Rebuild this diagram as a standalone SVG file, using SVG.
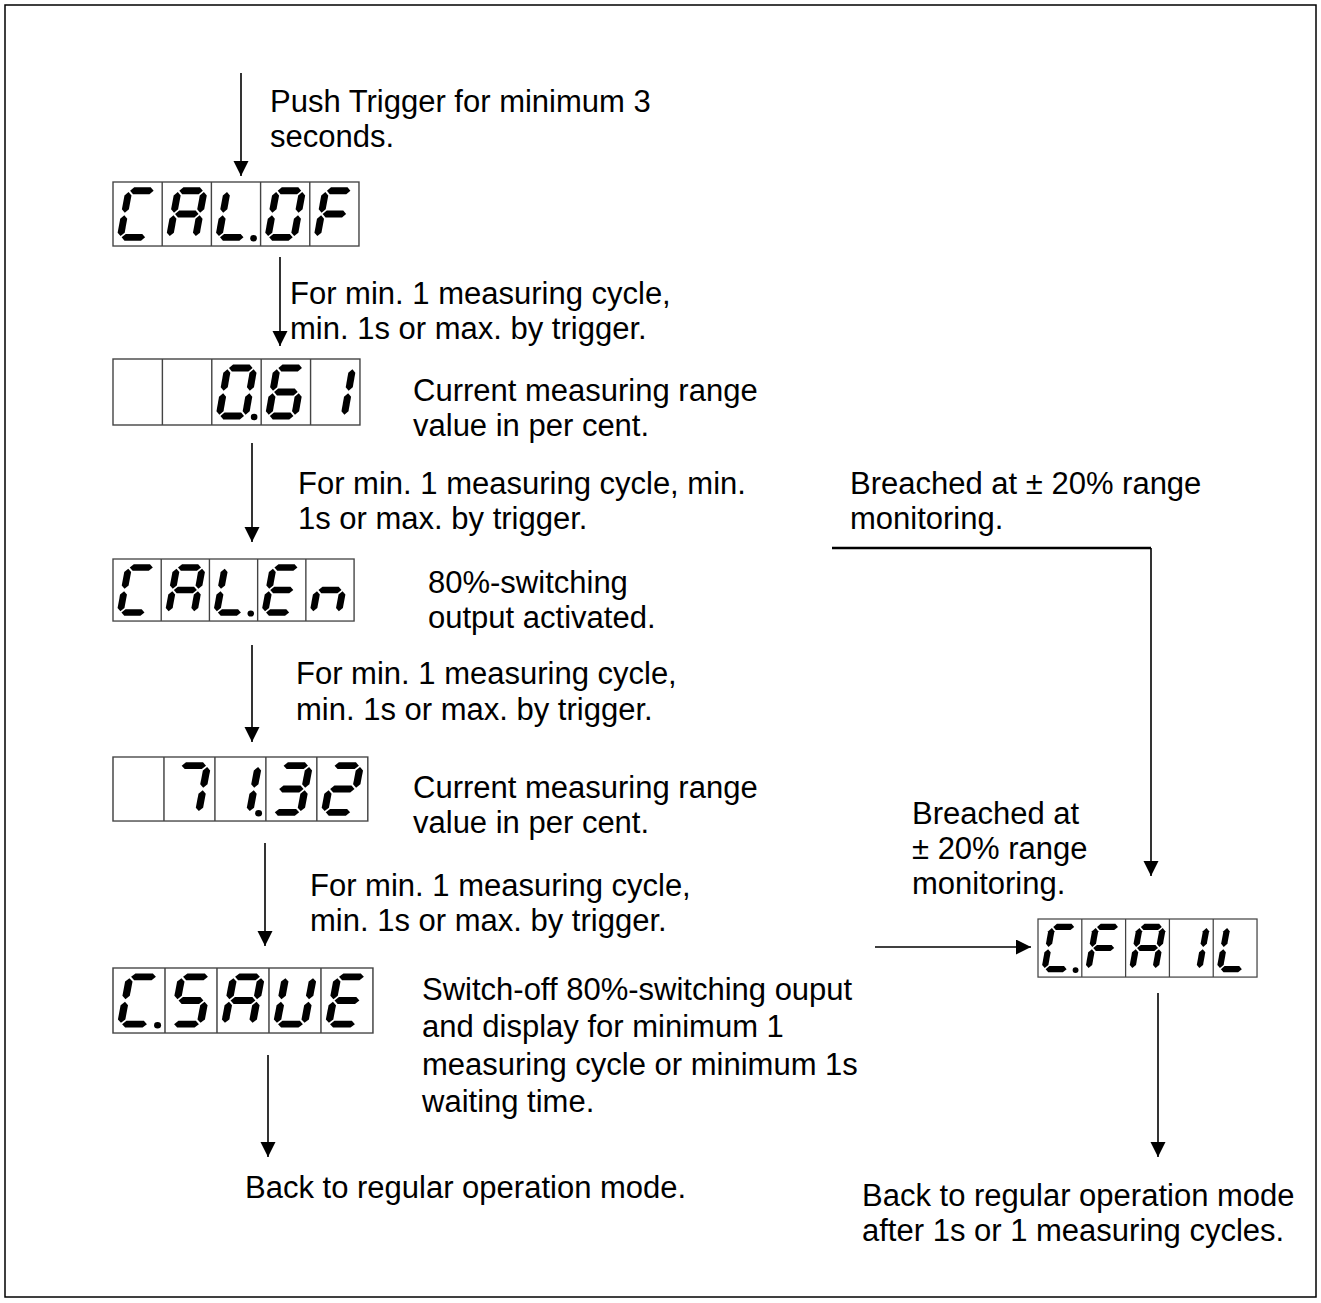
<svg xmlns="http://www.w3.org/2000/svg" xmlns:xlink="http://www.w3.org/1999/xlink" width="1321" height="1303" viewBox="0 0 1321 1303">
<style>
.txt{font-family:"Liberation Sans",Arial,sans-serif;font-size:31px;fill:#000}
.box{fill:none;stroke:#444;stroke-width:1.4}
.box *{vector-effect:non-scaling-stroke}
.seg{fill:#000}
.conn{stroke:#000;stroke-width:1.6;fill:none}
.thick{stroke-width:2.6}
</style>
<defs>
<marker id="ah" markerWidth="16" markerHeight="16" refX="15" refY="7.5" orient="auto" markerUnits="userSpaceOnUse">
<path d="M0,0 L15,7.5 L0,15 z" fill="#000"/>
</marker>
<polygon id="a" class="seg" points="1.3,0 4.8,-3.5 21.2,-3.5 24.7,0 21.2,3.5 4.8,3.5"/>
<polygon id="g" class="seg" points="1.3,24 4.8,20.5 21.2,20.5 24.7,24 21.2,27.5 4.8,27.5"/>
<polygon id="d" class="seg" points="1.3,48 4.8,44.5 21.2,44.5 24.7,48 21.2,51.5 4.8,51.5"/>
<polygon id="f" class="seg" points="0,1.3 3.5,4.8 3.5,19.2 0,22.7 -3.5,19.2 -3.5,4.8"/>
<polygon id="e" class="seg" points="0,25.3 3.5,28.8 3.5,43.2 0,46.7 -3.5,43.2 -3.5,28.8"/>
<polygon id="b" class="seg" points="26,1.3 29.5,4.8 29.5,19.2 26,22.7 22.5,19.2 22.5,4.8"/>
<polygon id="c" class="seg" points="26,25.3 29.5,28.8 29.5,43.2 26,46.7 22.5,43.2 22.5,28.8"/>
<circle id="dp" class="seg" cx="0" cy="0" r="3.3"/>
<g id="cells">
<rect x="0" y="0" width="245" height="66"/>
<path d="M49,0V66M98,0V66M147,0V66M196,0V66"/>
</g>
</defs>

<rect x="5" y="5" width="1311" height="1292" fill="none" stroke="#000" stroke-width="1.5"/>

<g id="connectors">
<line class="conn" x1="241" y1="73" x2="241" y2="176" marker-end="url(#ah)"/>
<line class="conn" x1="280" y1="257" x2="280" y2="346" marker-end="url(#ah)"/>
<line class="conn" x1="252" y1="443" x2="252" y2="542" marker-end="url(#ah)"/>
<line class="conn" x1="252" y1="645" x2="252" y2="742" marker-end="url(#ah)"/>
<line class="conn" x1="265" y1="843" x2="265" y2="946" marker-end="url(#ah)"/>
<line class="conn" x1="268" y1="1055" x2="268" y2="1157" marker-end="url(#ah)"/>
<line class="conn thick" x1="832" y1="548" x2="1151" y2="548"/>
<line class="conn" x1="1151" y1="548" x2="1151" y2="876" marker-end="url(#ah)"/>
<line class="conn" x1="875" y1="947" x2="1031" y2="947" marker-end="url(#ah)"/>
<line class="conn" x1="1158" y1="993" x2="1158" y2="1157" marker-end="url(#ah)"/>
</g>

<g id="node-calof" transform="translate(113,182) scale(1.004,0.97)">
<g class="box"><use xlink:href="#cells"/></g>
<g transform="translate(15.75,9) skewX(-10)"><use xlink:href="#a"/><use xlink:href="#d"/><use xlink:href="#e"/><use xlink:href="#f"/></g>
<g transform="translate(64.75,9) skewX(-10)"><use xlink:href="#a"/><use xlink:href="#b"/><use xlink:href="#c"/><use xlink:href="#e"/><use xlink:href="#f"/><use xlink:href="#g"/></g>
<g transform="translate(113.75,9) skewX(-10)"><use xlink:href="#d"/><use xlink:href="#e"/><use xlink:href="#f"/></g>
<use xlink:href="#dp" x="140" y="58"/>
<g transform="translate(162.75,9) skewX(-10)"><use xlink:href="#a"/><use xlink:href="#b"/><use xlink:href="#c"/><use xlink:href="#d"/><use xlink:href="#e"/><use xlink:href="#f"/></g>
<g transform="translate(211.75,9) skewX(-10)"><use xlink:href="#a"/><use xlink:href="#e"/><use xlink:href="#f"/><use xlink:href="#g"/></g>
</g>

<g id="node-061" transform="translate(113,359) scale(1.008,1)">
<g class="box"><use xlink:href="#cells"/></g>
<g transform="translate(113.75,9) skewX(-10)"><use xlink:href="#a"/><use xlink:href="#b"/><use xlink:href="#c"/><use xlink:href="#d"/><use xlink:href="#e"/><use xlink:href="#f"/></g>
<use xlink:href="#dp" x="140" y="58"/>
<g transform="translate(162.75,9) skewX(-10)"><use xlink:href="#a"/><use xlink:href="#c"/><use xlink:href="#d"/><use xlink:href="#e"/><use xlink:href="#f"/><use xlink:href="#g"/></g>
<g transform="translate(211.75,9) skewX(-10)"><use xlink:href="#b"/><use xlink:href="#c"/></g>
</g>

<g id="node-calen" transform="translate(113,559) scale(0.984,0.94)">
<g class="box"><use xlink:href="#cells"/></g>
<g transform="translate(15.75,9) skewX(-10)"><use xlink:href="#a"/><use xlink:href="#d"/><use xlink:href="#e"/><use xlink:href="#f"/></g>
<g transform="translate(64.75,9) skewX(-10)"><use xlink:href="#a"/><use xlink:href="#b"/><use xlink:href="#c"/><use xlink:href="#e"/><use xlink:href="#f"/><use xlink:href="#g"/></g>
<g transform="translate(113.75,9) skewX(-10)"><use xlink:href="#d"/><use xlink:href="#e"/><use xlink:href="#f"/></g>
<use xlink:href="#dp" x="140" y="58"/>
<g transform="translate(162.75,9) skewX(-10)"><use xlink:href="#a"/><use xlink:href="#d"/><use xlink:href="#e"/><use xlink:href="#f"/><use xlink:href="#g"/></g>
<g transform="translate(211.75,9) skewX(-10)"><use xlink:href="#c"/><use xlink:href="#e"/><use xlink:href="#g"/></g>
</g>

<g id="node-7132" transform="translate(113,757) scale(1.04,0.97)">
<g class="box"><use xlink:href="#cells"/></g>
<g transform="translate(64.75,9) skewX(-10)"><use xlink:href="#a"/><use xlink:href="#b"/><use xlink:href="#c"/></g>
<g transform="translate(113.75,9) skewX(-10)"><use xlink:href="#b"/><use xlink:href="#c"/></g>
<use xlink:href="#dp" x="140" y="58"/>
<g transform="translate(162.75,9) skewX(-10)"><use xlink:href="#a"/><use xlink:href="#b"/><use xlink:href="#c"/><use xlink:href="#d"/><use xlink:href="#g"/></g>
<g transform="translate(211.75,9) skewX(-10)"><use xlink:href="#a"/><use xlink:href="#b"/><use xlink:href="#d"/><use xlink:href="#e"/><use xlink:href="#g"/></g>
</g>

<g id="node-csave" transform="translate(113,968) scale(1.061,0.985)">
<g class="box"><use xlink:href="#cells"/></g>
<g transform="translate(15.75,9) skewX(-10)"><use xlink:href="#a"/><use xlink:href="#d"/><use xlink:href="#e"/><use xlink:href="#f"/></g>
<use xlink:href="#dp" x="42" y="58"/>
<g transform="translate(64.75,9) skewX(-10)"><use xlink:href="#a"/><use xlink:href="#c"/><use xlink:href="#d"/><use xlink:href="#f"/><use xlink:href="#g"/></g>
<g transform="translate(113.75,9) skewX(-10)"><use xlink:href="#a"/><use xlink:href="#b"/><use xlink:href="#c"/><use xlink:href="#e"/><use xlink:href="#f"/><use xlink:href="#g"/></g>
<g transform="translate(162.75,9) skewX(-10)"><use xlink:href="#b"/><use xlink:href="#c"/><use xlink:href="#d"/><use xlink:href="#e"/><use xlink:href="#f"/></g>
<g transform="translate(211.75,9) skewX(-10)"><use xlink:href="#a"/><use xlink:href="#d"/><use xlink:href="#e"/><use xlink:href="#f"/><use xlink:href="#g"/></g>
</g>

<g id="node-cfail" transform="translate(1038,919) scale(0.894,0.88)">
<g class="box"><use xlink:href="#cells"/></g>
<g transform="translate(15.75,9) skewX(-10)"><use xlink:href="#a"/><use xlink:href="#d"/><use xlink:href="#e"/><use xlink:href="#f"/></g>
<use xlink:href="#dp" x="42" y="58"/>
<g transform="translate(64.75,9) skewX(-10)"><use xlink:href="#a"/><use xlink:href="#e"/><use xlink:href="#f"/><use xlink:href="#g"/></g>
<g transform="translate(113.75,9) skewX(-10)"><use xlink:href="#a"/><use xlink:href="#b"/><use xlink:href="#c"/><use xlink:href="#e"/><use xlink:href="#f"/><use xlink:href="#g"/></g>
<g transform="translate(162.75,9) skewX(-10)"><use xlink:href="#b"/><use xlink:href="#c"/></g>
<g transform="translate(211.75,9) skewX(-10)"><use xlink:href="#d"/><use xlink:href="#e"/><use xlink:href="#f"/></g>
</g>

<g id="labels">
<text class="txt" x="270" y="112">Push Trigger for minimum 3</text>
<text class="txt" x="270" y="147">seconds.</text>
<text class="txt" x="290" y="304">For min. 1 measuring cycle,</text>
<text class="txt" x="290" y="339">min. 1s or max. by trigger.</text>
<text class="txt" x="413" y="401">Current measuring range</text>
<text class="txt" x="413" y="436">value in per cent.</text>
<text class="txt" x="298" y="494">For min. 1 measuring cycle, min.</text>
<text class="txt" x="298" y="529">1s or max. by trigger.</text>
<text class="txt" x="850" y="494">Breached at ± 20% range</text>
<text class="txt" x="850" y="529">monitoring.</text>
<text class="txt" x="428" y="593">80%-switching</text>
<text class="txt" x="428" y="628">output activated.</text>
<text class="txt" x="296" y="684">For min. 1 measuring cycle,</text>
<text class="txt" x="296" y="720">min. 1s or max. by trigger.</text>
<text class="txt" x="413" y="798">Current measuring range</text>
<text class="txt" x="413" y="833">value in per cent.</text>
<text class="txt" x="912" y="824">Breached at</text>
<text class="txt" x="912" y="859">± 20% range</text>
<text class="txt" x="912" y="894">monitoring.</text>
<text class="txt" x="310" y="896">For min. 1 measuring cycle,</text>
<text class="txt" x="310" y="931">min. 1s or max. by trigger.</text>
<text class="txt" x="422" y="1000">Switch-off 80%-switching ouput</text>
<text class="txt" x="422" y="1037">and display for minimum 1</text>
<text class="txt" x="422" y="1075">measuring cycle or minimum 1s</text>
<text class="txt" x="422" y="1112">waiting time.</text>
<text class="txt" x="245" y="1198">Back to regular operation mode.</text>
<text class="txt" x="862" y="1206">Back to regular operation mode</text>
<text class="txt" x="862" y="1241">after 1s or 1 measuring cycles.</text>
</g>
</svg>
